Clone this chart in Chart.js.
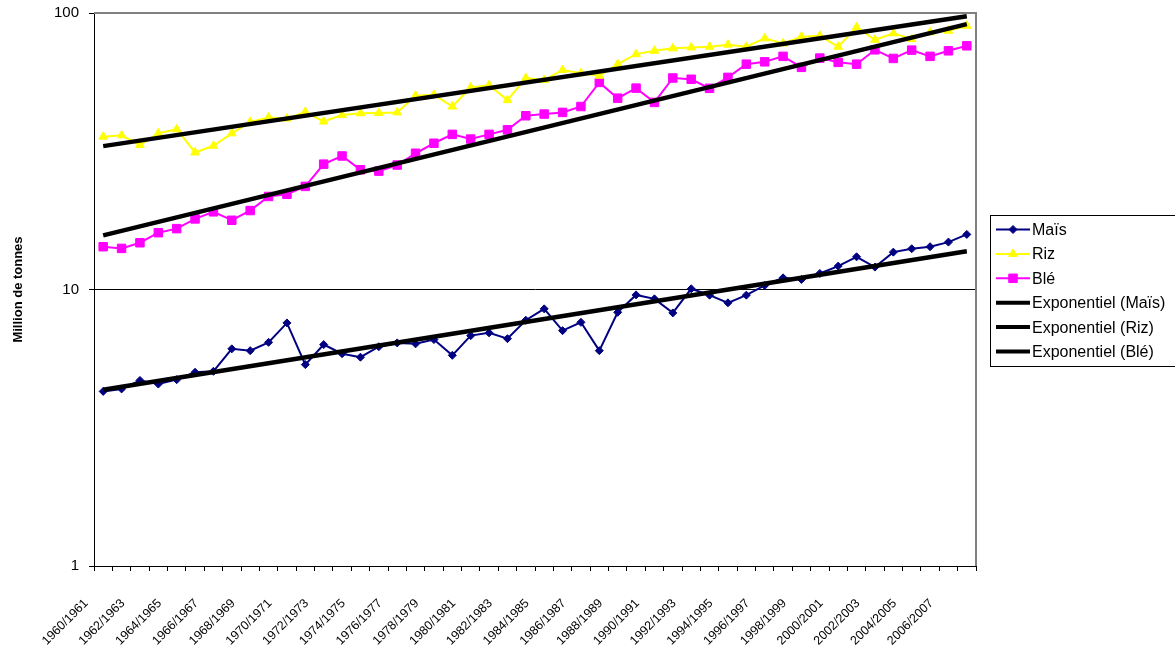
<!DOCTYPE html>
<html>
<head>
<meta charset="utf-8">
<title>Production : Maïs, Riz, Blé</title>
<script src="https://cdn.jsdelivr.net/npm/chart.js@4.4.0/dist/chart.umd.min.js"></script>
<style>
  html, body { margin: 0; padding: 0; background: #ffffff; }
  canvas { display: block; }
</style>
</head>
<body>
<canvas id="c" width="1175" height="651"></canvas>
<script>
// Campagnes agricoles
const campagnes = [
  '1960/1961','1961/1962','1962/1963','1963/1964','1964/1965','1965/1966',
  '1966/1967','1967/1968','1968/1969','1969/1970','1970/1971','1971/1972',
  '1972/1973','1973/1974','1974/1975','1975/1976','1976/1977','1977/1978',
  '1978/1979','1979/1980','1980/1981','1981/1982','1982/1983','1983/1984',
  '1984/1985','1985/1986','1986/1987','1987/1988','1988/1989','1989/1990',
  '1990/1991','1991/1992','1992/1993','1993/1994','1994/1995','1995/1996',
  '1996/1997','1997/1998','1998/1999','1999/2000','2000/2001','2001/2002',
  '2002/2003','2003/2004','2004/2005','2005/2006','2006/2007','2007/2008'
];

// Production (millions de tonnes)
const mais = [
  4.28, 4.37, 4.69, 4.55, 4.72, 5.02, 5.06, 6.10, 6.01, 6.44,
  7.57, 5.35, 6.32, 5.86, 5.69, 6.21, 6.41, 6.36, 6.59, 5.78,
  6.81, 6.97, 6.64, 7.74, 8.51, 7.10, 7.61, 6.01, 8.27, 9.56,
  9.25, 8.23, 10.06, 9.54, 8.95, 9.54, 10.34, 11.02, 10.87, 11.43,
  12.15, 13.13, 12.05, 13.65, 14.04, 14.28, 14.84, 15.82
];
const riz = [
  35.7, 36.1, 33.3, 36.7, 38.0, 31.3, 33.1, 36.7, 40.4, 41.9,
  41.5, 43.9, 40.5, 42.8, 43.4, 43.5, 43.7, 50.2, 50.6, 45.9,
  53.8, 54.8, 48.4, 58.2, 57.2, 62.2, 60.6, 59.3, 65.3, 71.0,
  73.0, 74.5, 75.1, 75.5, 76.8, 75.5, 81.0, 77.6, 82.1, 82.7,
  75.5, 88.8, 80.0, 84.4, 80.5, 85.1, 86.3, 89.9
];
const ble = [
  14.28, 14.08, 14.76, 16.05, 16.6, 18.0, 19.1, 17.8, 19.3, 21.7,
  22.1, 23.6, 28.4, 30.4, 27.1, 26.8, 28.2, 31.1, 33.8, 36.4,
  35.0, 36.4, 37.8, 42.5, 43.1, 43.7, 45.9, 56.1, 49.2, 53.5,
  47.5, 58.2, 57.6, 53.4, 58.5, 65.3, 66.6, 69.7, 63.6, 68.7,
  66.3, 65.3, 73.6, 68.5, 73.4, 69.7, 73.0, 76.1
];

// Courbes de tendance exponentielles : valeur en début et en fin de période
const tendanceMais = [4.34, 13.76];
const tendanceRiz = [33.0, 97.3];
const tendanceBle = [15.7, 91.2];

// Graduations de l'axe vertical
const graduationsY = [1, 10, 100];

const FONT = '"Liberation Sans", Arial, Helvetica, sans-serif';

function tendance(ends) {
  return [
    { x: campagnes[0], y: ends[0] },
    { x: campagnes[campagnes.length - 1], y: ends[1] }
  ];
}

function serie(label, data, color, style, radius) {
  return {
    label, data,
    borderColor: color, backgroundColor: color,
    borderWidth: 2,
    pointStyle: style, pointRadius: radius,
    pointBorderWidth: 1, pointBorderColor: color, pointBackgroundColor: color,
    tension: 0, order: 1
  };
}

function courbeTendance(label, ends) {
  return {
    label, data: tendance(ends),
    borderColor: '#000000', backgroundColor: '#000000',
    borderWidth: 4.5, pointRadius: 0, pointStyle: false,
    tension: 0, order: 0
  };
}

// Cadre gris du graphique (haut et droite)
const cadre = {
  id: 'cadre',
  beforeDatasetsDraw(chart) {
    const { ctx, chartArea: a } = chart;
    ctx.save();
    ctx.strokeStyle = '#808080';
    ctx.lineWidth = 2;
    ctx.beginPath();
    ctx.moveTo(a.left, a.top);
    ctx.lineTo(a.right, a.top);
    ctx.lineTo(a.right, a.bottom);
    ctx.stroke();
    ctx.restore();
  }
};

// Légende encadrée à droite
const legendeEncadree = {
  id: 'legendeEncadree',
  afterDraw(chart) {
    const ctx = chart.ctx;
    ctx.save();
    ctx.strokeStyle = '#000000';
    ctx.lineWidth = 1;
    ctx.strokeRect(990.5, 215.5, 220, 151);
    ctx.font = '16px ' + FONT;
    ctx.textBaseline = 'middle';
    ctx.textAlign = 'left';
    chart.data.datasets.forEach((ds, i) => {
      const y = 229.5 + i * 24.4;
      ctx.strokeStyle = ds.borderColor;
      ctx.lineWidth = ds.order === 0 ? 4 : 2;
      ctx.beginPath();
      ctx.moveTo(996, y);
      ctx.lineTo(1030, y);
      ctx.stroke();
      if (ds.pointRadius > 0) {
        ctx.fillStyle = ds.pointBackgroundColor;
        ctx.strokeStyle = ds.pointBorderColor;
        ctx.lineWidth = 1;
        Chart.helpers.drawPoint(ctx, {
          pointStyle: ds.pointStyle, radius: ds.pointRadius, rotation: 0, borderWidth: 1
        }, 1013, y);
      }
      ctx.fillStyle = '#000000';
      ctx.fillText(ds.label, 1032, y + 1);
    });
    ctx.restore();
  }
};

new Chart(document.getElementById('c'), {
  type: 'line',
  data: {
    labels: campagnes,
    datasets: [
      serie('Maïs', mais, '#000080', 'rectRot', 4),
      serie('Riz', riz, '#FFFF00', 'triangle', 5),
      serie('Blé', ble, '#FF00FF', 'rect', 6),
      courbeTendance('Exponentiel (Maïs)', tendanceMais),
      courbeTendance('Exponentiel (Riz)', tendanceRiz),
      courbeTendance('Exponentiel (Blé)', tendanceBle)
    ]
  },
  options: {
    responsive: false,
    devicePixelRatio: 1,
    animation: false,
    layout: { padding: { top: 13, right: 199, bottom: 0, left: 0 } },
    plugins: {
      legend: { display: false },
      tooltip: { enabled: false }
    },
    scales: {
      x: {
        type: 'category',
        offset: true,
        afterFit(scale) {
          scale.height = 85;
          scale.paddingLeft = 0;
          scale.paddingRight = 0;
        },
        grid: {
          offset: true,
          drawOnChartArea: false,
          drawTicks: true,
          tickLength: 5,
          tickColor: '#000000',
          tickWidth: 1
        },
        border: { display: true, color: '#000000', width: 1 },
        ticks: {
          autoSkip: false,
          maxRotation: 45,
          minRotation: 45,
          padding: 25,
          labelOffset: -17,
          color: '#000000',
          font: { family: FONT, size: 12.5 },
          callback(value, index) { return index % 2 === 0 ? campagnes[index] : ''; }
        }
      },
      y: {
        type: 'logarithmic',
        min: 1,
        max: 100,
        afterFit(scale) {
          scale.width = 94;
          scale.paddingTop = 0;
          scale.paddingBottom = 0;
        },
        afterBuildTicks(scale) {
          scale.ticks = graduationsY.map(v => ({ value: v }));
        },
        grid: {
          color: ctx => (ctx.tick && ctx.tick.value === 10 ? '#000000' : 'rgba(0,0,0,0)'),
          lineWidth: 1,
          drawTicks: true,
          tickLength: 5,
          tickColor: '#000000'
        },
        border: { display: true, color: '#000000', width: 1 },
        ticks: {
          padding: 10,
          color: '#000000',
          font: { family: FONT, size: 15 },
          callback(value) { return String(value); }
        },
        title: {
          display: true,
          text: 'Million de tonnes',
          color: '#000000',
          font: { family: FONT, size: 13, weight: 'bold' },
          padding: { top: 11, bottom: 0 }
        }
      }
    }
  },
  plugins: [cadre, legendeEncadree]
});
</script>
</body>
</html>
